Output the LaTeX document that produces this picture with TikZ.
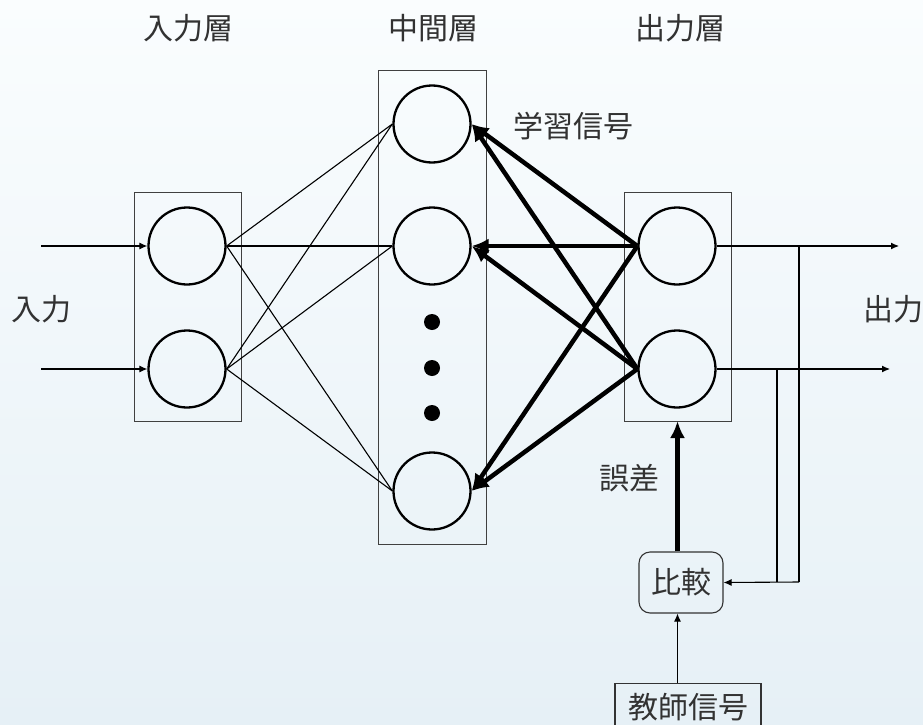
\documentclass[tikz,border=0pt]{standalone}
\usepackage{fontspec}
\setmainfont{Noto Sans CJK JP}
\usetikzlibrary{arrows.meta}
\definecolor{bgtop}{RGB}{250,253,254}
\definecolor{bgbot}{RGB}{230,240,246}
\definecolor{txt}{RGB}{50,50,50}
\tikzset{
  neuron/.style={circle,draw=black,line width=2.3pt,minimum size=77pt,inner sep=0pt},
  layerbox/.style={draw=black!75,line width=0.9pt},
  dotn/.style={circle,fill=black,minimum size=16pt,inner sep=0pt},
  lbl/.style={font=\fontsize{30pt}{30pt}\selectfont,text=txt,inner sep=0pt},
  conn/.style={line width=1.1pt},
  thinarr/.style={line width=1.1pt,-{Latex[length=8pt,width=7pt]}},
  learn/.style={line width=4.5pt,-{Latex[length=17pt,width=15pt]}},
  boxn/.style={draw=black!80,line width=1.1pt,inner sep=0pt}
}
\begin{document}
\begin{tikzpicture}[x=1pt,y=-1pt]
\useasboundingbox (0,0) rectangle (923,725);
\shade[top color=bgtop,bottom color=bgbot] (0,0) rectangle (923,725);
% layer boxes
\draw[layerbox] (134,192) rectangle (241,421);
\draw[layerbox] (378,70) rectangle (486,544);
\draw[layerbox] (624,192) rectangle (731,421);
\coordinate (obot) at (677.5,421);
% layer labels
\node[lbl] (Lin) at (188,28) {入力層};
\node[lbl] (Lmid) at (433,28) {中間層};
\node[lbl] (Lout) at (680,28) {出力層};
% neurons
\node[neuron] (i1) at (187,246) {};
\node[neuron] (i2) at (187,369) {};
\node[neuron] (m1) at (432,124) {};
\node[neuron] (m2) at (432,246) {};
\node[neuron] (m3) at (432,491) {};
\node[neuron] (o1) at (677,246) {};
\node[neuron] (o2) at (677,369) {};
\node[dotn] (d1) at (432,322) {};
\node[dotn] (d2) at (432,368) {};
\node[dotn] (d3) at (432,413) {};
% forward connections
\foreach \a in {i1,i2}{
  \foreach \b in {m1,m2,m3}{
    \draw[conn] (\a.east) -- (\b.west);
  }
}
% learning signals
\foreach \a in {o1,o2}{
  \foreach \b in {m1,m2,m3}{
    \draw[learn] (\a.west) -- (\b.east);
  }
}
% inputs
\coordinate (in1) at (41,246);
\coordinate (in2) at (41,369);
\draw[thinarr] (in1) -- (i1.west);
\draw[thinarr] (in2) -- (i2.west);
% outputs
\coordinate (out1) at (899,246);
\coordinate (out2) at (890,369);
\draw[thinarr] (o1.east) -- (out1);
\draw[thinarr] (o2.east) -- (out2);
% compare and teacher
\node[boxn,rounded corners=11pt,minimum width=84pt,minimum height=61pt,lbl,draw=black!80] (cmp) at (681,582.5) {比較};
\node[boxn,minimum width=146pt,minimum height=56pt,anchor=north,lbl,draw=black!80,text depth=12pt] (tch) at (688,683) {教師信号};
\coordinate (v1a) at (799,246);
\coordinate (v1b) at (799,582);
\coordinate (v2a) at (777,369);
\coordinate (v2b) at (777,582);
\draw[conn] (v1a) -- (v1b);
\draw[conn] (v2a) -- (v2b);
\draw[thinarr] (v1b) -- (cmp.east);
\draw[learn] (cmp.north -| obot) -- (obot);
\draw[thinarr] (tch.north -| obot) -- (cmp.south -| obot);
% text labels
\node[lbl] (tin) at (42,309) {入力};
\node[lbl] (tout) at (893,309) {出力};
\node[lbl] (tlearn) at (573,126) {学習信号};
\node[lbl] (terr) at (629,478) {誤差};
\end{tikzpicture}
\end{document}
